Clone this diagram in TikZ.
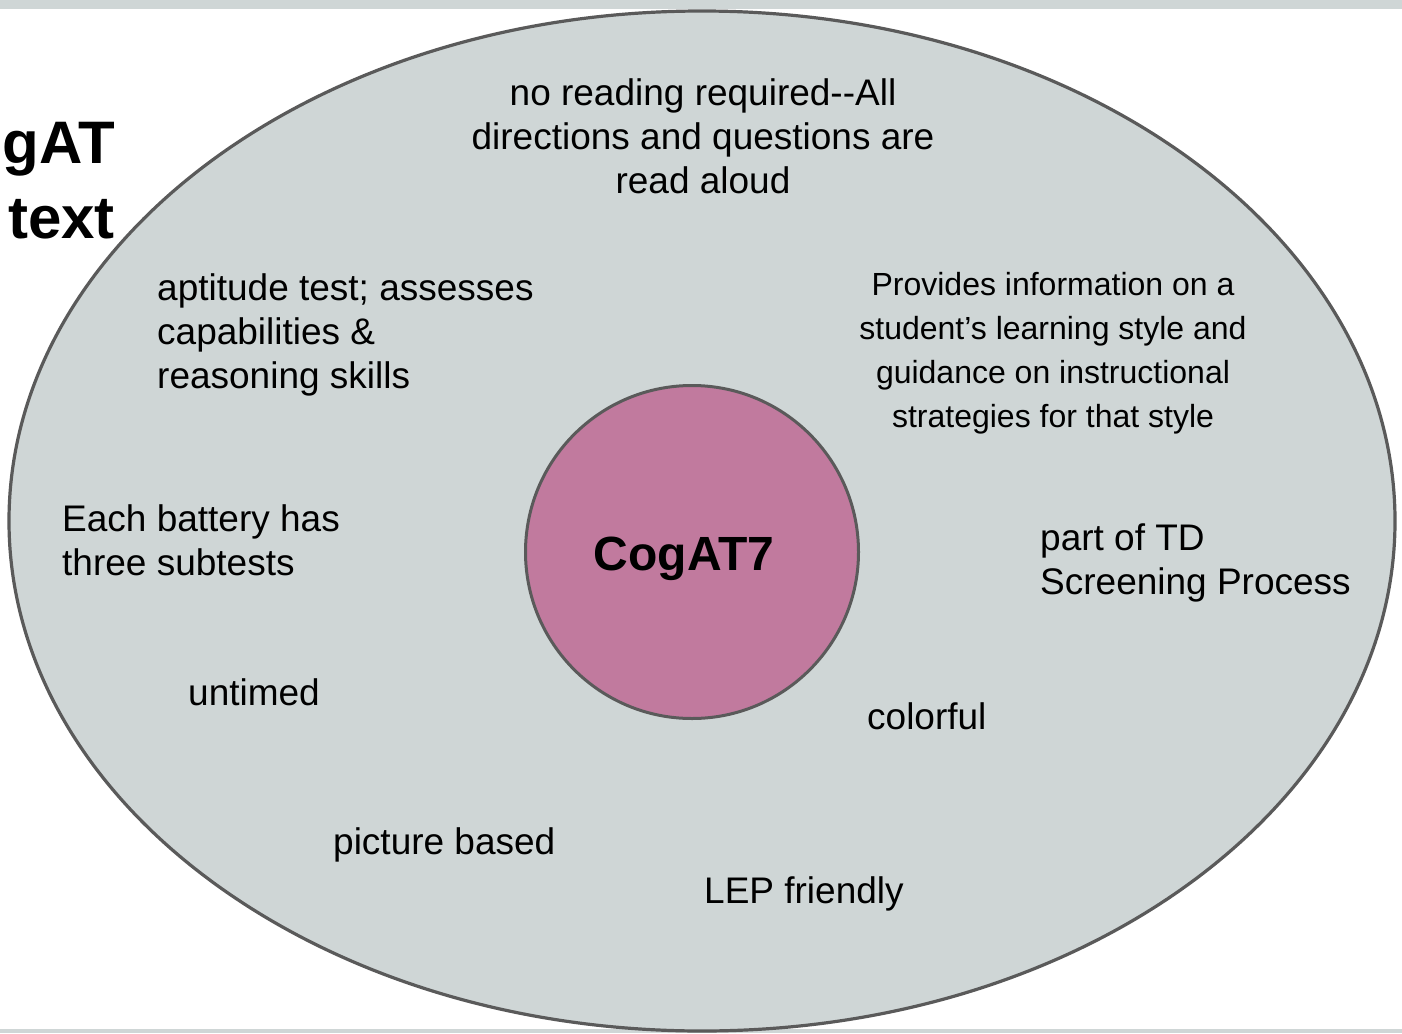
\documentclass[tikz,border=0pt]{standalone}
\usepackage{fontspec}
\setmainfont{Liberation Sans}
\usetikzlibrary{shapes.geometric}
\definecolor{panelgray}{RGB}{207,214,214}
\definecolor{edgegray}{RGB}{90,90,90}
\definecolor{corepink}{RGB}{193,122,158}
\tikzset{
  txt/.style={inner sep=0pt, font=\fontsize{37}{44}\selectfont, text=black},
  txtsmall/.style={inner sep=0pt, font=\fontsize{32}{44}\selectfont, text=black},
  lefttxt/.style={txt, align=left, anchor=base west},
}
\begin{document}
\begin{tikzpicture}[x=1pt,y=-1pt]
\useasboundingbox (0,0) rectangle (1402,1033);
\fill[white] (0,0) rectangle (1402,1033);
% bars
\fill[panelgray] (0,0) rectangle (1402,9);
\fill[panelgray] (0,1029) rectangle (1402,1033);
% title (partly cut)
\node[inner sep=0pt, font=\fontsize{60}{75}\selectfont\bfseries, align=right, anchor=base east] (title) at (115,238) {gAT\\text};
% outer ellipse
\node[ellipse, draw=edgegray, line width=3.2pt, fill=panelgray, minimum width=1386pt, minimum height=1020pt, inner sep=0pt] (outer) at (702,521) {};
% core circle
\node[circle, draw=edgegray, line width=3pt, fill=corepink, minimum size=333pt, inner sep=0pt] (core) at (692,552) {};
\node[inner sep=0pt, font=\fontsize{48}{56}\selectfont\bfseries, anchor=base] (coretext) at (684,570) {CogAT7};
% texts (base anchor = baseline of the last line)
\node[txt, align=center, anchor=base] (reading) at (703,193) {no reading required-{}-All\\directions and questions are\\read aloud};
\node[lefttxt] (aptitude) at (157,388) {aptitude test; assesses\\capabilities \&\\reasoning skills};
\node[txtsmall, align=center, anchor=base] (provides) at (1053,427) {Provides information on a\\student’s learning style and\\guidance on instructional\\strategies for that style};
\node[lefttxt] (battery) at (62,575) {Each battery has\\three subtests};
\node[lefttxt] (td) at (1040,594) {part of TD\\Screening Process};
\node[lefttxt] (untimed) at (188,705) {untimed};
\node[lefttxt] (colorful) at (867,729) {colorful};
\node[lefttxt] (picture) at (333,854) {picture based};
\node[lefttxt] (lep) at (704,903) {LEP friendly};
\end{tikzpicture}
\end{document}
